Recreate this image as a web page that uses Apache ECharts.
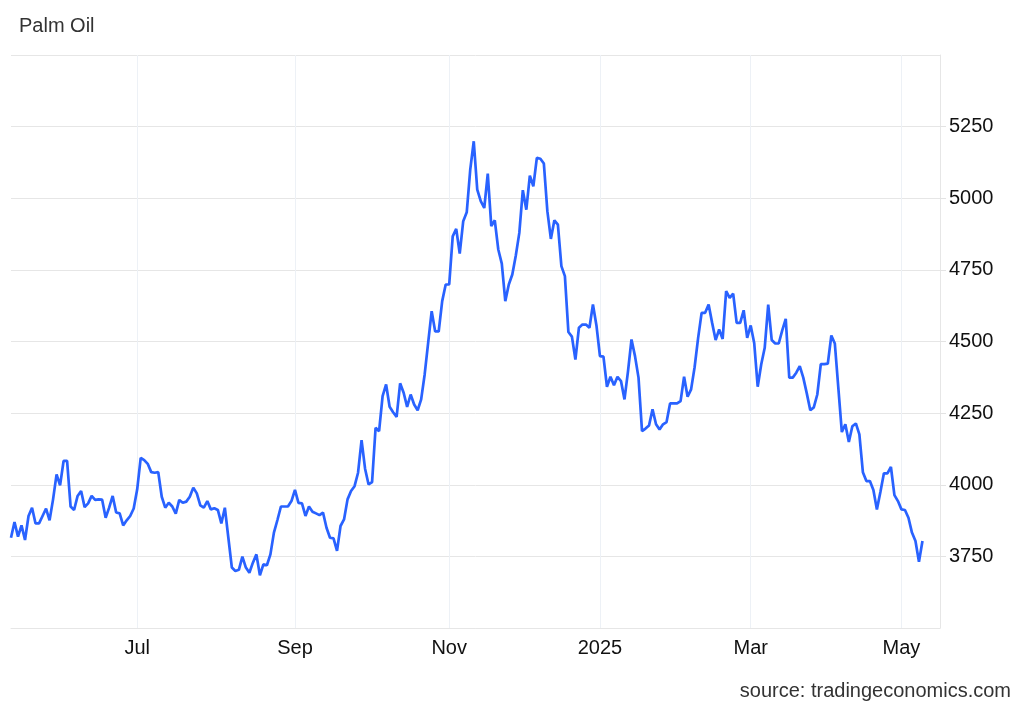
<!DOCTYPE html>
<html>
<head>
<meta charset="utf-8">
<script src="https://cdn.jsdelivr.net/npm/echarts@6/dist/echarts.min.js"></script>
<style>
html,body{margin:0;padding:0;background:#fff;}
#chart{width:1024px;height:710px;}
</style>
</head>
<body>
<div id="chart"></div>
<script>
// Trading-day categories (weekdays), May 2024 - May 2025
const dates = [
'2024-05-10','2024-05-13','2024-05-14','2024-05-15','2024-05-16','2024-05-17','2024-05-20','2024-05-21','2024-05-22','2024-05-23','2024-05-24','2024-05-27','2024-05-28','2024-05-29','2024-05-30','2024-05-31',
'2024-06-03','2024-06-04','2024-06-05','2024-06-06','2024-06-07','2024-06-10','2024-06-11','2024-06-12','2024-06-13','2024-06-14','2024-06-17','2024-06-18','2024-06-19','2024-06-20','2024-06-21','2024-06-24','2024-06-25','2024-06-26','2024-06-27','2024-06-28',
'2024-07-01','2024-07-02','2024-07-03','2024-07-04','2024-07-05','2024-07-08','2024-07-09','2024-07-10','2024-07-11','2024-07-12','2024-07-15','2024-07-16','2024-07-17','2024-07-18','2024-07-19','2024-07-22','2024-07-23','2024-07-24','2024-07-25','2024-07-26','2024-07-29','2024-07-30','2024-07-31',
'2024-08-01','2024-08-02','2024-08-05','2024-08-06','2024-08-07','2024-08-08','2024-08-09','2024-08-12','2024-08-13','2024-08-14','2024-08-15','2024-08-16','2024-08-19','2024-08-20','2024-08-21','2024-08-22','2024-08-23','2024-08-26','2024-08-27','2024-08-28','2024-08-29','2024-08-30',
'2024-09-02','2024-09-03','2024-09-04','2024-09-05','2024-09-06','2024-09-09','2024-09-10','2024-09-11','2024-09-12','2024-09-13','2024-09-16','2024-09-17','2024-09-18','2024-09-19','2024-09-20','2024-09-23','2024-09-24','2024-09-25','2024-09-26','2024-09-27','2024-09-30',
'2024-10-01','2024-10-02','2024-10-03','2024-10-04','2024-10-07','2024-10-08','2024-10-09','2024-10-10','2024-10-11','2024-10-14','2024-10-15','2024-10-16','2024-10-17','2024-10-18','2024-10-21','2024-10-22','2024-10-23','2024-10-24','2024-10-25','2024-10-28','2024-10-29','2024-10-30','2024-10-31',
'2024-11-01','2024-11-04','2024-11-05','2024-11-06','2024-11-07','2024-11-08','2024-11-11','2024-11-12','2024-11-13','2024-11-14','2024-11-15','2024-11-18','2024-11-19','2024-11-20','2024-11-21','2024-11-22','2024-11-25','2024-11-26','2024-11-27','2024-11-28','2024-11-29',
'2024-12-02','2024-12-03','2024-12-04','2024-12-05','2024-12-06','2024-12-09','2024-12-10','2024-12-11','2024-12-12','2024-12-13','2024-12-16','2024-12-17','2024-12-18','2024-12-19','2024-12-20','2024-12-23','2024-12-24','2024-12-25','2024-12-26','2024-12-27','2024-12-30','2024-12-31',
'2025-01-01','2025-01-02','2025-01-03','2025-01-06','2025-01-07','2025-01-08','2025-01-09','2025-01-10','2025-01-13','2025-01-14','2025-01-15','2025-01-16','2025-01-17','2025-01-20','2025-01-21','2025-01-22','2025-01-23','2025-01-24','2025-01-27','2025-01-28','2025-01-29','2025-01-30','2025-01-31',
'2025-02-03','2025-02-04','2025-02-05','2025-02-06','2025-02-07','2025-02-10','2025-02-11','2025-02-12','2025-02-13','2025-02-14','2025-02-17','2025-02-18','2025-02-19','2025-02-20','2025-02-21','2025-02-24','2025-02-25','2025-02-26','2025-02-27','2025-02-28',
'2025-03-03','2025-03-04','2025-03-05','2025-03-06','2025-03-07','2025-03-10','2025-03-11','2025-03-12','2025-03-13','2025-03-14','2025-03-17','2025-03-18','2025-03-19','2025-03-20','2025-03-21','2025-03-24','2025-03-25','2025-03-26','2025-03-27','2025-03-28','2025-03-31',
'2025-04-01','2025-04-02','2025-04-03','2025-04-04','2025-04-07','2025-04-08','2025-04-09','2025-04-10','2025-04-11','2025-04-14','2025-04-15','2025-04-16','2025-04-17','2025-04-18','2025-04-21','2025-04-22','2025-04-23','2025-04-24','2025-04-25','2025-04-28','2025-04-29','2025-04-30',
'2025-05-01','2025-05-02','2025-05-05','2025-05-06','2025-05-07','2025-05-08','2025-05-09','2025-05-12','2025-05-13','2025-05-14','2025-05-15','2025-05-16'
];

// Palm oil price (MYR/T), one value per trading day from 2024-05-10 to 2025-05-09
const prices = [
3815,3870,3819,3858,3807,3891,3920,3865,3865,3891,
3917,3876,3949,4036,3998,4083,4083,3924,3912,3961,
3978,3922,3935,3961,3947,3949,3948,3885,3920,3961,
3903,3900,3858,3876,3891,3917,3984,
4094,4086,4073,4044,4042,4044,
3958,3920,3937,3924,3899,3947,3937,3941,3958,3990,
3970,3928,3920,3943,3914,3918,3912,3865,3920,3815,
3711,3699,3703,3749,3711,3693,3728,3757,3684,3722,
3719,3757,3833,3877,3924,3924,3924,3943,3982,
3937,3935,3891,3924,3906,3900,3894,3903,3850,3815,
3813,3769,3856,3879,3949,3978,3995,4042,4156,4056,
4001,4009,4199,4187,4309,4350,4272,4253,4237,4354,
4321,4272,4315,4280,4260,4298,4385,4496,4606,4535,
4535,4641,4699,4699,4867,4893,4807,4920,4951,5100,
5199,5030,4990,4966,5086,4903,4923,4821,4772,4641,
4699,4734,4800,4879,5028,4960,5079,5042,5141,5138,
5121,4955,4858,4923,4908,4763,4728,4533,4517,4437,
4548,4559,4559,4548,4629,4556,4449,4447,4342,4377,
4347,4377,4362,4298,4396,4507,4449,4374,4187,4196,
4207,4263,4211,4193,4211,4219,4284,4284,4284,4292,
4377,4307,4333,4410,4512,4600,4600,4629,4565,4505,
4542,4509,4676,4652,4667,4565,4565,4609,4513,4556,
4495,4342,4420,4478,4629,4505,4493,4493,4539,4579,
4374,4374,4391,4414,4374,4319,4260,4270,4315,4421,
4421,4423,4521,4493,4338,4184,4211,4149,4204,4214,
4176,4044,4013,4013,3982,3914,3975,4040,4040,4062,
3964,3943,3914,3912,3885,3833,3804,3731,3804
];

// x-axis tick labels
const tickDates  = ['2024-07-01','2024-09-02','2024-11-01','2025-01-01','2025-03-03','2025-05-01'];
const tickLabels = ['Jul','Sep','Nov','2025','Mar','May'];

const tickMap = {};
tickDates.forEach((d, i) => { tickMap[d] = tickLabels[i]; });
const isTick = (idx, val) => tickMap[val] !== undefined;

const FONT = "'Liberation Sans', Arial, Helvetica, sans-serif";
const chart = echarts.init(document.getElementById('chart'));
chart.setOption({
  animation: false,
  backgroundColor: '#ffffff',
  title: [
    { text: 'Palm Oil', left: 19, top: 16, padding: 0,
      textStyle: { fontFamily: FONT, fontSize: 20, fontWeight: 'normal', color: '#333333' } },
    { text: 'source: tradingeconomics.com', right: 13, top: 681, padding: 0,
      textStyle: { fontFamily: FONT, fontSize: 20, fontWeight: 'normal', color: '#333333' } }
  ],
  grid: { left: 11, right: 84, top: 55, bottom: 82, containLabel: false },
  xAxis: {
    type: 'category',
    data: dates,
    boundaryGap: false,
    axisLine: { show: true, lineStyle: { color: '#e6e6e6', width: 1 } },
    axisTick: { show: false },
    axisLabel: {
      interval: isTick,
      formatter: v => tickMap[v] || '',
      fontFamily: FONT, fontSize: 20, color: '#111111', margin: 10
    },
    splitLine: { show: true, interval: isTick, lineStyle: { color: '#edf1f6', width: 1 } }
  },
  yAxis: {
    type: 'value',
    position: 'right',
    min: 3500, max: 5500, interval: 250,
    axisLine: { show: true, lineStyle: { color: '#e6e6e6', width: 1 } },
    axisTick: { show: true, inside: false, length: 6, lineStyle: { color: '#e3e3e3', width: 1 } },
    axisLabel: { showMinLabel: false, showMaxLabel: false, formatter: v => String(v),
      fontFamily: FONT, fontSize: 20, color: '#111111', margin: 9 },
    splitLine: { show: true, lineStyle: { color: '#e6e6e6', width: 1 } }
  },
  series: [{
    type: 'line',
    data: prices,
    showSymbol: false,
    symbol: 'none',
    smooth: false,
    lineStyle: { color: '#2962ff', width: 2.7 },
    itemStyle: { color: '#2962ff' }
  }]
});
</script>
</body>
</html>
